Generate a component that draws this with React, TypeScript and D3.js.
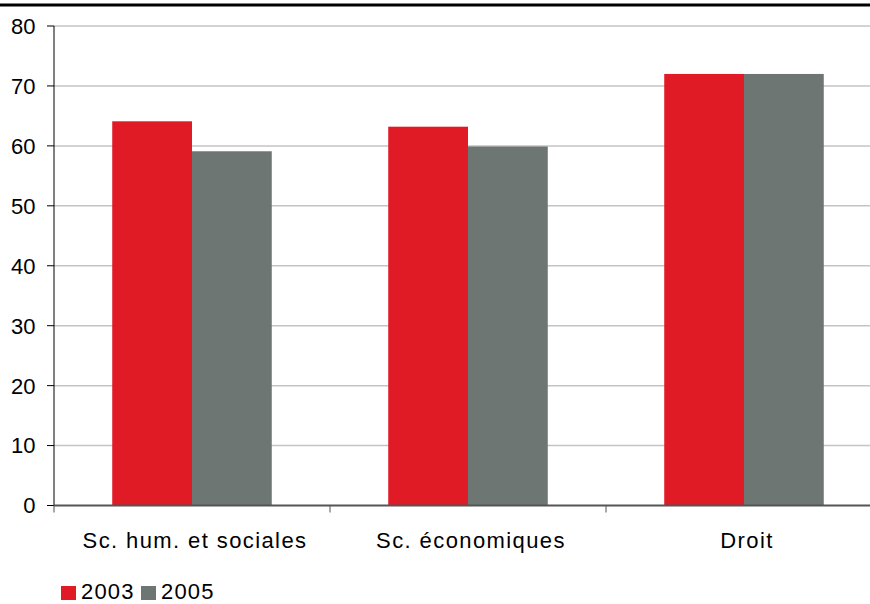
import React from "react";
import * as d3 from "d3";

const categories = ["Sc. hum. et sociales", "Sc. économiques", "Droit"];
const seriesNames = ["2003", "2005"];
const values2003 = [64.1, 63.2, 72.0];
const values2005 = [59.1, 59.9, 72.0];
const yTicks = [0, 10, 20, 30, 40, 50, 60, 70, 80];

const colors = ["#E11B26", "#6D7673"];

const W = 870;
const H = 604;
const left = 54;
const top = 26;
const bottom = 505.5;
const bandW = 276;

export default function App() {
  const x = d3
    .scaleBand<string>()
    .domain(categories)
    .range([left, left + bandW * categories.length])
    .paddingInner(0)
    .paddingOuter(0);
  const inner = d3
    .scaleBand<string>()
    .domain(seriesNames)
    .range([0, bandW])
    .paddingOuter(0.73)
    .paddingInner(0);
  const y = d3.scaleLinear().domain([0, 80]).range([bottom, top]);
  const series = [values2003, values2005];
  const font = "'Liberation Sans', Arial, sans-serif";

  return (
    <svg
      width={W}
      height={H}
      style={{ position: "absolute", left: 0, top: 0, background: "#fff" }}
      fontFamily={font}
    >
      <line x1={0} x2={W} y1={5} y2={5} stroke="#000" strokeWidth={3} />
      {yTicks.map((t) => (
        <g key={t}>
          {t > 0 && (
            <line
              x1={left}
              x2={W}
              y1={y(t)}
              y2={y(t)}
              stroke="#c4c4c4"
              strokeWidth={1.5}
            />
          )}
          <line x1={left - 7} x2={left} y1={y(t)} y2={y(t)} stroke="#000" strokeWidth={1} />
          <text
            x={35.5}
            y={y(t)}
            dy="0.36em"
            textAnchor="end"
            fontSize={22}
            fill="#000"
          >
            {t}
          </text>
        </g>
      ))}
      {categories.map((c, i) =>
        series.map((vals, s) => (
          <rect
            key={c + s}
            x={(x(c) as number) + (inner(seriesNames[s]) as number)}
            y={y(vals[i])}
            width={inner.bandwidth()}
            height={bottom - y(vals[i])}
            fill={colors[s]}
          />
        ))
      )}
      <line x1={left} x2={left} y1={top} y2={bottom} stroke="#000" strokeWidth={1} />
      <line x1={left} x2={W} y1={bottom} y2={bottom} stroke="#555" strokeWidth={2} />
      {categories.map((c) => (
        <g key={c}>
          <line
            x1={x(c) as number}
            x2={x(c) as number}
            y1={bottom}
            y2={bottom + 7}
            stroke="#555"
            strokeWidth={1}
          />
          <text
            x={(x(c) as number) + bandW / 2 + 3}
            y={547.5}
            textAnchor="middle"
            fontSize={22}
            letterSpacing={1.4}
            fill="#000"
          >
            {c}
          </text>
        </g>
      ))}
      {seriesNames.map((s, i) => (
        <g key={s} transform={`translate(${61 + i * 80},0)`}>
          <rect x={0} y={586} width={15} height={14} fill={colors[i]} />
          <text x={20} y={599.3} fontSize={22} letterSpacing={1.2} fill="#000">
            {s}
          </text>
        </g>
      ))}
    </svg>
  );
}
